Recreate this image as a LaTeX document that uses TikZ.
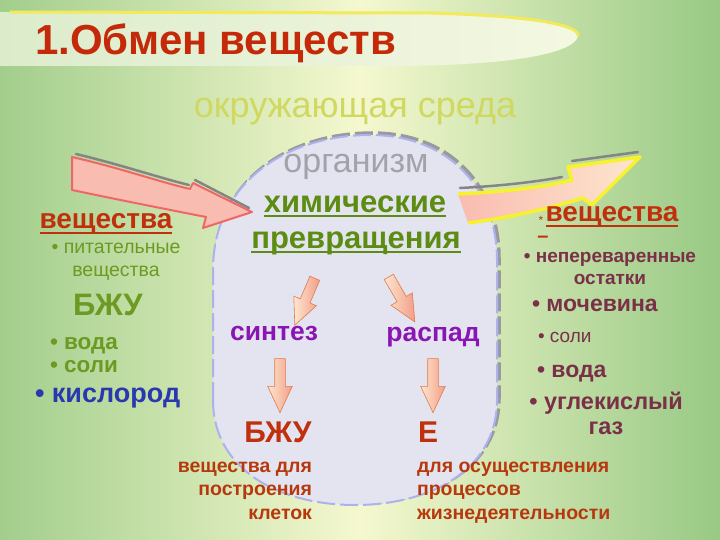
\documentclass[tikz,border=0pt]{standalone}
\usepackage{fontspec}
\setmainfont{Liberation Sans}
\usetikzlibrary{shapes.arrows,positioning}

\definecolor{bgside}{HTML}{A2CE8C}
\definecolor{bgright}{HTML}{98C984}
\definecolor{bgmid}{HTML}{F5F8CF}
\definecolor{bandL}{HTML}{DCECCB}
\definecolor{bandR}{HTML}{F4F8E2}
\definecolor{yelline}{HTML}{F2EA5A}
\definecolor{titlered}{HTML}{C42A0A}
\definecolor{envtext}{HTML}{D0D860}
\definecolor{orgfill}{HTML}{E4E4F0}
\definecolor{orggray}{HTML}{9A9A9E}
\definecolor{orglav}{HTML}{ABB2EE}
\definecolor{orgtext}{HTML}{A2A2AA}
\definecolor{chemgreen}{HTML}{5C8C12}
\definecolor{darkred}{HTML}{C0300C}
\definecolor{olive}{HTML}{6C9A22}
\definecolor{oxblue}{HTML}{2A38B0}
\definecolor{purp}{HTML}{8A14B4}
\definecolor{botred}{HTML}{B8380E}
\definecolor{maroon}{HTML}{7A3048}
\definecolor{arrline}{HTML}{E07A4E}
\definecolor{arrtail}{HTML}{FDE6CE}
\definecolor{arrtip}{HTML}{F39E88}
\definecolor{bigred}{HTML}{F06666}
\definecolor{bigfill}{HTML}{F9BCB0}
\definecolor{edgegray}{HTML}{858585}
\definecolor{yelarr}{HTML}{F8F22C}

\newcommand{\fsz}[2]{\fontsize{#1}{#2}\selectfont}
\newcommand{\orgpath}{(213,400) -- (213,270) .. controls (213,180) and (290,135) .. (370,135) .. controls (450,135) and (497,190) .. (497,260) -- (497,400) .. controls (497,470) and (430,505) .. (355,505) .. controls (280,505) and (213,470) .. (213,400) -- cycle}

\begin{document}
\begin{tikzpicture}[x=1pt,y=-1pt,
    txt/.style={inner sep=0pt,outer sep=0pt},
    smallarr/.style={single arrow,draw=arrline,line width=0.6pt,left color=arrtail,right color=arrtip,
      inner sep=5pt,single arrow head extend=7pt,single arrow tip angle=50,
      sloped,allow upside down,minimum height=#1}]
  \useasboundingbox (0,0) rectangle (720,540);
  \shade[left color=bgside,right color=bgright,middle color=bgmid] (0,0) rectangle (720,540);

  % title band
  \shade[left color=bandL,right color=bandR] (0,12) -- (430,13) .. controls (540,16) and (580,26) .. (578,36)
    .. controls (575,52) and (520,65) .. (400,66) -- (0,66) -- cycle;
  \draw[yelline,line width=3pt] (10,12) -- (430,13) .. controls (540,16) and (580,26) .. (578,36);
  \node[txt,anchor=base west,text=titlered,font=\bfseries\fsz{42}{42}] (title) at (35,55) {1.Обмен веществ};

  \node[txt,anchor=base,text=envtext,font=\fsz{36}{36}] (env) at (355,118) {окружающая среда};

  % organism
  \draw[orggray,line width=3.5pt,dash pattern=on 18pt off 5pt,xshift=2pt,yshift=2pt] \orgpath;
  \draw[fill=orgfill,draw=orglav,line width=2pt,dash pattern=on 18pt off 5pt] \orgpath;
  \node[txt,anchor=base,text=orgtext,font=\fsz{34}{34}] (org) at (356,173) {организм};

  % big arrows
  \draw[draw=bigred,line width=2pt,fill=bigfill,line join=round]
    (72,157) .. controls (120,168) and (160,182) .. (190,189) -- (193,183) -- (252,212) -- (203,228)
    -- (206,217) .. controls (160,208) and (110,198) .. (72,190) -- cycle;
  \draw[edgegray,line width=2.5pt,line cap=round] (76,154) .. controls (122,165) and (160,178) .. (189,185);
  \draw[edgegray,line width=2.5pt,line cap=round] (195,180) -- (249,208);

  \shade[left color=bigfill,right color=arrtail] (458,194) .. controls (500,192) and (540,188) .. (572,180) -- (568,167)
    -- (640,157) -- (592,205) -- (583,198) .. controls (545,210) and (505,218) .. (468,223) -- cycle;
  \draw[yelarr,line width=3.5pt,line join=round] (458,194) .. controls (500,192) and (540,188) .. (572,180) -- (568,167)
    -- (640,157) -- (592,205) -- (583,198) .. controls (545,210) and (505,218) .. (468,223);
  \draw[edgegray,line width=2.5pt,line cap=round] (460,188) .. controls (500,186) and (535,182) .. (562,177);
  \draw[edgegray,line width=2.5pt,line cap=round] (572,161) -- (638,152);

  % inside the organism
  \node[txt,anchor=base,text=chemgreen,font=\bfseries\fsz{31}{31}] (chem1) at (355,212) {химические};
  \node[txt,anchor=base,text=chemgreen,font=\bfseries\fsz{31}{31}] (chem2) at (356,248) {превращения};
  \foreach \n in {chem1,chem2}{
    \draw[chemgreen,line width=2.5pt] ([yshift=-4pt]\n.base west) -- ([yshift=-4pt]\n.base east);
  }
  \node[txt,anchor=base,text=purp,font=\bfseries\fsz{26.5}{26.5}] (synth) at (274,340) {синтез};
  \node[txt,anchor=base,text=purp,font=\bfseries\fsz{26.5}{26.5}] (decay) at (433,341) {распад};
  \node[txt,anchor=base,text=darkred,font=\bfseries\fsz{30}{30}] (bzu) at (278,442) {БЖУ};
  \node[txt,anchor=base,text=darkred,font=\bfseries\fsz{30}{30}] (energy) at (428,442) {Е};

  \coordinate (sa1) at (317,273);
  \coordinate (sa1e) at (297,320);
  \coordinate (sa2) at (386,272);
  \coordinate (sa2e) at (412,317);
  \coordinate (sa3) at (280,353);
  \coordinate (sa3e) at (280,407);
  \coordinate (sa4) at (433,353);
  \coordinate (sa4e) at (433,407);
  \path (sa1) -- node[smallarr=51pt] (arrsynth) {} (sa1e);
  \path (sa2) -- node[smallarr=52pt] (arrdecay) {} (sa2e);
  \path (sa3) -- node[smallarr=54pt] (arrbzu) {} (sa3e);
  \path (sa4) -- node[smallarr=54pt] (arrenergy) {} (sa4e);

  \node[txt,anchor=base east,align=right,text=botred,font=\bfseries\fsz{19.5}{23.5}] (build) at (312,519)
    {вещества для\\построения\\клеток};
  \node[txt,anchor=base west,align=left,text=botred,font=\bfseries\fsz{19.5}{23.5}] (life) at (417,519)
    {для осуществления\\процессов\\жизнедеятельности};

  % left column
  \node[txt,anchor=base,text=darkred,font=\bfseries\fsz{28}{28}] (inlbl) at (106,229) {вещества};
  \draw[darkred,line width=2.5pt] ([yshift=-4pt]inlbl.base west) -- ([yshift=-4pt]inlbl.base east);
  \node[txt,anchor=base,align=center,text=olive,font=\fsz{19.5}{22}] (nutr) at (116,276) {• питательные\\вещества};
  \node[txt,anchor=base,text=olive,font=\bfseries\fsz{31}{31}] (bzuin) at (108,315) {БЖУ};
  \node[txt,anchor=base west,text=olive,font=\bfseries\fsz{22.5}{22.5}] (waterin) at (50,349) {• вода};
  \node[txt,anchor=base west,text=olive,font=\bfseries\fsz{22.5}{22.5}] (saltin) at (50,372) {• соли};
  \node[txt,anchor=base west,text=oxblue,font=\bfseries\fsz{27}{27}] (oxy) at (35,402) {• кислород};

  % right column
  \node[txt,anchor=base,text=darkred,font=\bfseries\fsz{28}{28}] (outlbl) at (612,222) {вещества};
  \draw[darkred,line width=2.5pt] ([yshift=-4pt]outlbl.base west) -- ([yshift=-4pt]outlbl.base east);
  \node[txt,anchor=base,text=darkred,font=\fsz{12}{12}] (star) at (541,225) {*};
  \node[txt,anchor=base,text=darkred,font=\bfseries\fsz{20}{20}] (dash) at (543,242) {–};
  \node[txt,anchor=base,align=center,text=maroon,font=\bfseries\fsz{19}{22}] (undig) at (610,284) {• непереваренные\\остатки};
  \node[txt,anchor=base west,text=maroon,font=\bfseries\fsz{23}{23}] (urea) at (532,311) {• мочевина};
  \node[txt,anchor=base west,text=maroon,font=\fsz{19}{19}] (saltout) at (538,342) {• соли};
  \node[txt,anchor=base west,text=maroon,font=\bfseries\fsz{23}{23}] (waterout) at (537,377) {• вода};
  \node[txt,anchor=base,align=center,text=maroon,font=\bfseries\fsz{23.5}{25}] (co2) at (606,434) {• углекислый\\газ};
\end{tikzpicture}
\end{document}
